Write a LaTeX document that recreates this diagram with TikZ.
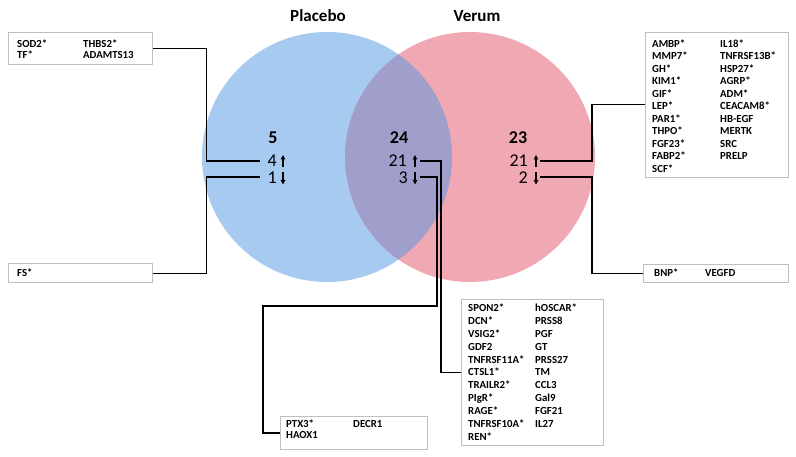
\documentclass[tikz,border=0pt]{standalone}
\usepackage{fontspec}
\setmainfont{Carlito}
\usetikzlibrary{arrows.meta}
\definecolor{placeboblue}{HTML}{A7CAF1}
\definecolor{verumpink}{HTML}{F0A8B3}
\definecolor{overlapviolet}{HTML}{A09FCC}
\definecolor{boxgray}{HTML}{BFBFBF}
\newcommand\mkgenes[3]{\fontsize{10.8}{#1}\selectfont\bfseries\begin{tabular}[t]{@{}p{#2}@{}l@{}}#3\end{tabular}}
\begin{document}
\begin{tikzpicture}[x=1pt,y=-1pt,
  gbox/.style={draw=boxgray, line width=0.8pt, fill=white, inner sep=0pt, anchor=north west},
  boxtext/.style={inner sep=0pt, anchor=base west},
  conn/.style={line width=1.2pt, draw=black},
  head/.style={font=\fontsize{17}{20}\selectfont\bfseries, inner sep=0pt, anchor=base},
  cnt/.style={font=\fontsize{18}{20}\selectfont\bfseries, inner sep=0pt, anchor=base},
  num/.style={font=\fontsize{18}{20}\selectfont, inner sep=0pt, anchor=base east},
  dirarrow/.style={line width=1.3pt, -{Triangle[length=4.5pt,width=4.5pt]}},
]
\useasboundingbox (0,0) rectangle (796,457);
\fill[white] (0,0) rectangle (796,457);
% circles
\fill[placeboblue] (327,157) circle (125pt);
\fill[verumpink] (470,157) circle (125pt);
\begin{scope}
  \clip (327,157) circle (125pt);
  \fill[overlapviolet] (470,157) circle (125pt);
\end{scope}
% titles
\node[head] (placebo) at (318,21.7) {Placebo};
\node[head] (verum) at (477,21.7) {Verum};
% counts
\node[cnt] (c5) at (273,144) {5};
\node[cnt] (c24) at (399,144) {24};
\node[cnt] (c23) at (518,144) {23};
\node[num] (pu) at (277,167) {4};
\node[num] (pd) at (277,184) {1};
\node[num] (mu) at (407,167) {21};
\node[num] (md) at (408,184) {3};
\node[num] (vu) at (528,167) {21};
\node[num] (vd) at (528,184) {2};
% direction arrows
\coordinate (puA) at (283,161);
\coordinate (pdA) at (283,178);
\coordinate (muA) at (415,161);
\coordinate (mdA) at (415,178);
\coordinate (vuA) at (536,161);
\coordinate (vdA) at (536,178);
\foreach \a in {puA,muA,vuA}{\draw[dirarrow] ([yshift=-6.5pt]\a) -- ([yshift=6pt]\a);}
\foreach \a in {pdA,mdA,vdA}{\draw[dirarrow] ([yshift=6pt]\a) -- ([yshift=-6.5pt]\a);}
% connector end points
\coordinate (pL1) at (260,161);
\coordinate (pL2) at (260,177);
\coordinate (mR1) at (420,161);
\coordinate (mR2) at (420,177);
\coordinate (vR1) at (540,161);
\coordinate (vR2) at (540,177);
% boxes
\node[gbox, minimum width=144pt, minimum height=31.5pt] (boxTL) at (8,32.5) {};
\node[gbox, minimum width=144pt, minimum height=19pt] (boxFS) at (8,263.5) {};
\node[gbox, minimum width=143pt, minimum height=145pt] (boxR) at (645,32) {};
\node[gbox, minimum width=145pt, minimum height=18.5pt] (boxBNP) at (643,264) {};
\node[gbox, minimum width=142pt, minimum height=146pt] (boxM) at (461,299) {};
\node[gbox, minimum width=147pt, minimum height=33pt] (boxP) at (280,416) {};
% box texts
\node[boxtext] (tTL) at (17,47.2) {\mkgenes{11.2pt}{66pt}{SOD2* & THBS2*\\ TF* & ADAMTS13}};
\node[boxtext] (tFS) at (17,276.7) {\mkgenes{11pt}{60pt}{FS* & }};
\node[boxtext] (tR) at (652,47.4) {\mkgenes{12.5pt}{68pt}{AMBP* & IL18*\\ MMP7* & TNFRSF13B*\\ GH* & HSP27*\\ KIM1* & AGRP*\\ GIF* & ADM*\\ LEP* & CEACAM8*\\ PAR1* & HB-EGF\\ THPO* & MERTK\\ FGF23* & SRC\\ FABP2* & PRELP\\ SCF* & }};
\node[boxtext] (tBNP) at (654,276.4) {\mkgenes{11pt}{51pt}{BNP* & VEGFD}};
\node[boxtext] (tM) at (468,311.7) {\mkgenes{12.85pt}{67pt}{SPON2* & hOSCAR*\\ DCN* & PRSS8\\ VSIG2* & PGF\\ GDF2 & GT\\ TNFRSF11A* & PRSS27\\ CTSL1* & TM\\ TRAILR2* & CCL3\\ PIgR* & Gal9\\ RAGE* & FGF21\\ TNFRSF10A* & IL27\\ REN* & }};
\node[boxtext] (tP) at (286,427.4) {\mkgenes{10.7pt}{67pt}{PTX3* & DECR1\\ HAOX1 & }};
% connectors
\draw[conn] (boxTL.east) -- ++(54,0) |- (pL1);
\draw[conn] (boxFS.east) -- ++(54,0) |- (pL2);
\draw[conn] (vR1) -- ++(52,0) |- (boxR.west);
\draw[conn] (vR2) -- ++(52,0) |- (boxBNP.west);
\draw[conn] (mR1) -- ++(21,0) |- (boxM.west);
\draw[conn] (mR2) -- ++(17,0) |- ++(-174,129) |- (boxP.west);
\end{tikzpicture}
\end{document}
